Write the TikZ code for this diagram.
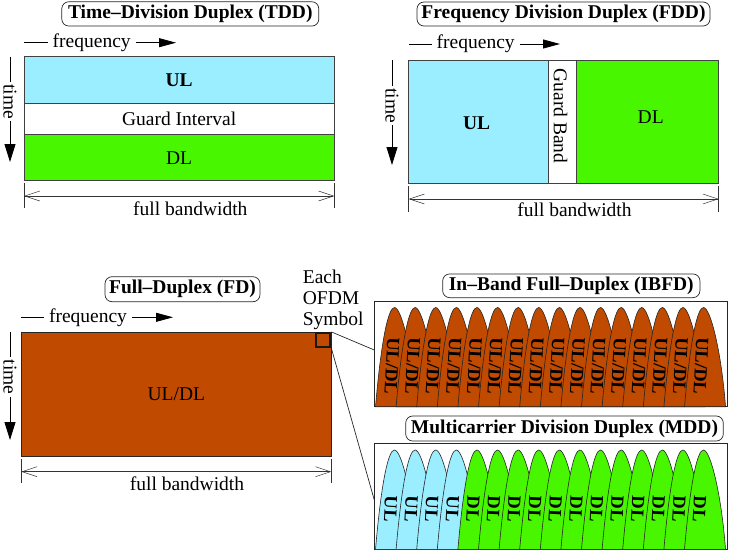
\documentclass[tikz,border=0pt]{standalone}
\usepackage{fontspec}
\setmainfont{Liberation Serif}
\usetikzlibrary{arrows.meta}
\definecolor{ulblue}{RGB}{155,238,255}
\definecolor{dlgreen}{RGB}{72,246,0}
\definecolor{fdbrown}{RGB}{191,74,0}
\begin{document}
\begin{tikzpicture}[x=1pt,y=-1pt,
  txt/.style={font=\fontsize{19.5}{21}\selectfont, inner sep=0pt},
  freqlbl/.style={txt, inner xsep=5pt},
  timelbl/.style={txt, rotate=-90, inner xsep=2pt},
  ttl/.style={draw=black!85, line width=0.7pt, rounded corners=7pt, font=\fontsize{19.5}{21}\selectfont\bfseries, inner sep=0pt},
  band/.style={draw=black!75, line width=0.7pt, inner sep=0pt, font=\fontsize{19.5}{21}\selectfont},
  axisline/.style={line width=0.8pt},
  farrow/.style={axisline, -{Triangle[length=17pt,width=9pt]}},
  tarrow/.style={axisline, -{Triangle[length=18pt,width=11pt]}},
  dimline/.style={line width=0.5pt, draw=black!80, {Straight Barb[length=15pt,width=10pt]}-{Straight Barb[length=15pt,width=10pt]}},
  extline/.style={line width=0.5pt, draw=black!80},
  lobeshape/.style={draw=black!85, line width=0.6pt},
  lobetxt/.style={font=\fontsize{18.5}{20}\selectfont\bfseries, rotate=-93, inner sep=0pt},
  zoomline/.style={line width=0.7pt, draw=black!85},
]
\useasboundingbox (0,0) rectangle (755,551);

% ---------------- TDD ----------------
\node[ttl, minimum width=257pt, minimum height=24.3pt] (tddt) at (190.3,13.9) {Time--Division Duplex (TDD)};
\node[band, fill=ulblue, minimum width=310.3pt, minimum height=46.6pt] (tddul) at (179.15,80) {\bfseries UL};
\node[band, fill=white, minimum width=310.3pt, minimum height=31.4pt] (tddgi) at (179.15,119) {Guard Interval};
\node[band, fill=dlgreen, minimum width=310.3pt, minimum height=46pt] (tdddl) at (179.15,157.7) {DL};
\coordinate (tf0) at (24,42.7);
\coordinate (tf1) at (176,42.7);
\node[freqlbl] (tfq) at (91.7,42.7) {frequency};
\draw[axisline] (tf0) -- (tfq.west);
\draw[farrow] (tfq.east) -- (tf1);
\coordinate (tt0) at (10,56.7);
\coordinate (tt1) at (10,162);
\node[timelbl] (tti) at (10,101.7) {time};
\draw[axisline] (tt0) -- (tti.west);
\draw[tarrow] (tti.east) -- (tt1);
\coordinate (tb0) at (24,196);
\coordinate (tb1) at (334.3,196);
\coordinate (te0a) at (24,183.3);
\coordinate (te0b) at (24,208.3);
\coordinate (te1a) at (334.3,183.3);
\coordinate (te1b) at (334.3,208.3);
\draw[extline] (te0a) -- (te0b);
\draw[extline] (te1a) -- (te1b);
\draw[dimline] (tb0) -- (tb1);
\node[txt, anchor=base] (tbw) at (190.3,215) {full bandwidth};

% ---------------- FDD ----------------
\node[ttl, minimum width=293pt, minimum height=24pt] (fddt) at (563.5,14) {Frequency Division Duplex (FDD)};
\node[band, fill=ulblue, minimum width=139.6pt, minimum height=123.3pt] (fddul) at (478.5,121.65) {};
\node[band, fill=white, minimum width=27.7pt, minimum height=123.3pt] (fddgb) at (562.15,121.65) {};
\node[band, fill=dlgreen, minimum width=142.7pt, minimum height=123.3pt] (fdddl) at (647.35,121.65) {};
\node[txt] (fddullbl) at (476.7,123.3) {\bfseries UL};
\node[txt, rotate=-90] (fddgblbl) at (560.5,116) {Guard Band};
\node[txt] (fdddllbl) at (650.7,116.7) {DL};
\coordinate (ff0) at (409,44);
\coordinate (ff1) at (560,44);
\node[freqlbl] (ffq) at (475.7,44) {frequency};
\draw[axisline] (ff0) -- (ffq.west);
\draw[farrow] (ffq.east) -- (ff1);
\coordinate (ft0) at (392,60);
\coordinate (ft1) at (392,165);
\node[timelbl] (fti) at (392,105.8) {time};
\draw[axisline] (ft0) -- (fti.west);
\draw[tarrow] (fti.east) -- (ft1);
\coordinate (fb0) at (408.7,199);
\coordinate (fb1) at (718.7,199);
\coordinate (fe0a) at (408.7,186);
\coordinate (fe0b) at (408.7,212);
\coordinate (fe1a) at (718.7,186);
\coordinate (fe1b) at (718.7,212);
\draw[extline] (fe0a) -- (fe0b);
\draw[extline] (fe1a) -- (fe1b);
\draw[dimline] (fb0) -- (fb1);
\node[txt, anchor=base] (fbw) at (574.5,216.7) {full bandwidth};

% ---------------- FD ----------------
\node[ttl, minimum width=155pt, minimum height=25pt] (fdt) at (182.5,289.2) {Full--Duplex (FD)};
\node[band, draw=black!85, fill=fdbrown, minimum width=310pt, minimum height=124pt] (fdrect) at (176.3,394) {UL/DL};
\node[draw=black!90, line width=2pt, minimum width=14.5pt, minimum height=14.5pt, inner sep=0pt] (sym) at (323.15,340.15) {};
\coordinate (xf0) at (21.3,317.3);
\coordinate (xf1) at (173,317.3);
\node[freqlbl] (xfq) at (88,317.3) {frequency};
\draw[axisline] (xf0) -- (xfq.west);
\draw[farrow] (xfq.east) -- (xf1);
\coordinate (xt0) at (10,332);
\coordinate (xt1) at (10,440);
\node[timelbl] (xti) at (10,377) {time};
\draw[axisline] (xt0) -- (xti.west);
\draw[tarrow] (xti.east) -- (xt1);
\coordinate (xb0) at (21.3,471.7);
\coordinate (xb1) at (331.3,471.7);
\coordinate (xe0a) at (21.3,459);
\coordinate (xe0b) at (21.3,483.3);
\coordinate (xe1a) at (331.3,459);
\coordinate (xe1b) at (331.3,483.3);
\draw[extline] (xe0a) -- (xe0b);
\draw[extline] (xe1a) -- (xe1b);
\draw[dimline] (xb0) -- (xb1);
\node[txt, anchor=base] (xbw) at (187,490) {full bandwidth};
\node[txt, align=left, anchor=north west, font=\fontsize{19.5}{21}\selectfont] (eachlbl) at (302.7,269.5) {Each\\OFDM\\Symbol};

% ---------------- IBFD ----------------
\node[ttl, minimum width=257.3pt, minimum height=23.7pt] (ibfdt) at (571.3,285.8) {In--Band Full--Duplex (IBFD)};
\node[draw=black!85, line width=0.7pt, fill=white, minimum width=353.4pt, minimum height=105pt, inner sep=0pt] (ibfd) at (551,354.2) {};
\foreach \i in {0,...,15} {
  \pgfmathsetmacro\xp{394.5+20.6*\i}
  \draw[lobeshape, fill=fdbrown] (\xp,307.5) .. controls (\xp-6,307.5) and (\xp-13,337.5) .. (\xp-19,406.7) -- (\xp+22,406.7) .. controls (\xp+18,352.5) and (\xp+7,307.5) .. cycle;
  \node[lobetxt] (ibl\i) at (\xp-2.5,366) {UL/DL};
}

% ---------------- MDD ----------------
\node[ttl, minimum width=317.6pt, minimum height=25pt] (mddt) at (564.5,428.5) {Multicarrier Division Duplex (MDD)};
\node[draw=black!85, line width=0.7pt, fill=white, minimum width=353.4pt, minimum height=106pt, inner sep=0pt] (mdd) at (551,496.3) {};
\foreach \i in {0,...,15} {
  \pgfmathsetmacro\xp{394.5+20.6*\i}
  \ifnum\i<4
    \draw[lobeshape, fill=ulblue] (\xp,450) .. controls (\xp-6,450) and (\xp-13,480) .. (\xp-19,549.3) -- (\xp+22,549.3) .. controls (\xp+18,495) and (\xp+7,450) .. cycle;
    \node[lobetxt] (mdl\i) at (\xp-4,509) {UL};
  \else
    \draw[lobeshape, fill=dlgreen] (\xp,450) .. controls (\xp-6,450) and (\xp-13,480) .. (\xp-19,549.3) -- (\xp+22,549.3) .. controls (\xp+18,495) and (\xp+7,450) .. cycle;
    \node[lobetxt] (mdl\i) at (\xp-4,509) {DL};
  \fi
}

% ---------------- zoom connectors ----------------
\coordinate (zi) at (374.3,350);
\coordinate (zm) at (374.3,500);
\draw[zoomline] (sym.north east) -- (zi);
\draw[zoomline] (sym.south east) -- (zm);
\end{tikzpicture}
\end{document}
